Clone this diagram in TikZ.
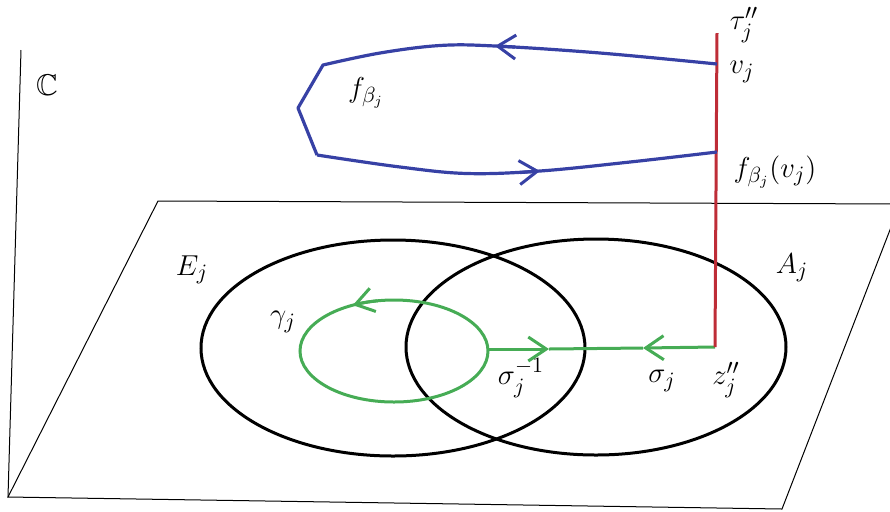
\documentclass[tikz,border=0pt]{standalone}
\usepackage{amssymb}
\usetikzlibrary{arrows.meta,calc}
\definecolor{cblue}{RGB}{55,65,165}
\definecolor{cgreen}{RGB}{70,172,85}
\definecolor{cred}{RGB}{190,45,55}
\tikzset{
  lbl/.style={inner sep=0pt,font=\fontsize{15}{18}\selectfont},
  thin line/.style={line width=0.5pt,black},
  curve/.style={line width=1.5pt,black},
  bl/.style={line width=1.6pt,cblue,line join=round},
  gr/.style={line width=1.5pt,cgreen},
  rd/.style={line width=1.5pt,cred},
  barb/.style={-{Straight Barb[length=9pt,width=12pt,line width=1.5pt]}},
}
\begin{document}
\begin{tikzpicture}[x=0.5pt,y=-0.5pt]
\useasboundingbox (0,0) rectangle (890,511);
\clip (0,0) rectangle (890,511);
% plane and axis
\coordinate (ax) at (21,50);
\coordinate (bl) at (8,497);
\coordinate (tl) at (158,201);
\coordinate (tr) at (900,204);
\coordinate (br) at (782,509);
\draw[thin line] (ax) -- (bl);
\draw[thin line] (bl) -- (tl) -- (tr) -- (br) -- cycle;
% ellipses
\coordinate (ce) at (393,348);
\coordinate (ca) at (596,347);
\draw[curve] (ce) ellipse [x radius=192, y radius=108];
\draw[curve] (ca) ellipse [x radius=190, y radius=108];
% green loop
\coordinate (cg) at (394,351);
\coordinate (gs) at ($(cg)+({94*cos(-100)},{51*sin(-100)})$);
\draw[gr] (cg) ellipse [x radius=94, y radius=51];
\draw[gr,barb] (gs) arc[start angle=-100,end angle=-116,x radius=94,y radius=51];
% green segment
\coordinate (g0) at (488,349);
\coordinate (gA) at (549,349);
\coordinate (gB) at (643,348);
\coordinate (z) at (715,347);
\draw[gr,barb] (g0) -- (gA);
\draw[gr] (gA) -- (gB);
\draw[gr,barb] (z) -- (gB);
% red line
\coordinate (rtop) at (717,33);
\draw[rd] (rtop) -- (z);
% blue loop
\coordinate (v) at (717,64);
\coordinate (p2) at (323,65);
\coordinate (p3) at (298,108);
\coordinate (p4) at (317,155);
\coordinate (fv) at (717,152);
\coordinate (tA) at (495,46);
\coordinate (tA0) at (515,47);
\coordinate (bA) at (540,171);
\coordinate (bA0) at (520,172.5);
\draw[bl] plot[smooth,tension=0.6] coordinates {(717,64) (600,53) (495,46) (440,45.5) (380,53) (323,65)}
  -- (p3) -- (p4)
  plot[smooth,tension=0.6] coordinates {(317,155) (400,167) (467,173.5) (540,171) (630,162) (717,152)};
\draw[bl,barb] (tA0) -- (tA);
\draw[bl,barb] (bA0) -- (bA);
% labels
\node[lbl] (lC) at (47,85) {$\mathbb{C}$};
\node[lbl] (ltau) at (744,25) {$\tau_j^{\prime\prime}$};
\node[lbl] (lv) at (742,72) {$v_j$};
\node[lbl] (lf) at (366,93) {$f_{\beta_j}$};
\node[lbl] (lfv) at (775,172) {$f_{\beta_j}(v_j)$};
\node[lbl] (lE) at (192,270) {$E_j$};
\node[lbl] (lA) at (792,268) {$A_j$};
\node[lbl] (lg) at (283,322) {$\gamma_j$};
\node[lbl] (ls1) at (521,378) {$\sigma_j^{-1}$};
\node[lbl] (ls) at (662,381) {$\sigma_j$};
\node[lbl] (lz) at (726,380) {$z_j^{\prime\prime}$};
\end{tikzpicture}
\end{document}
